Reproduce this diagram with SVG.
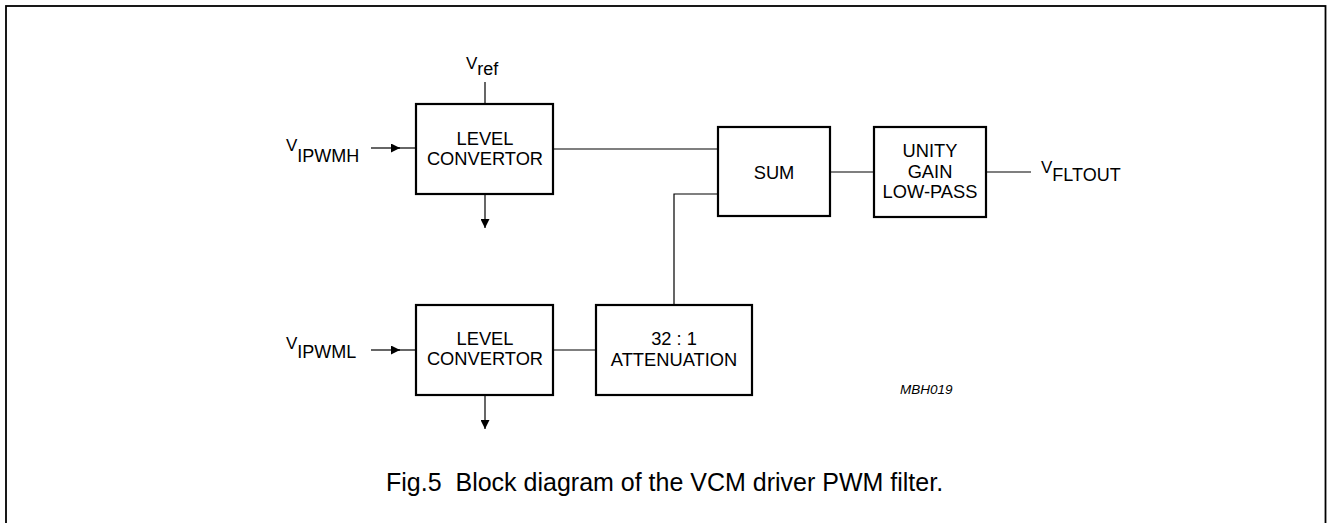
<svg xmlns="http://www.w3.org/2000/svg" width="1327" height="523" viewBox="0 0 1327 523">
<style>
.box{fill:#fff;stroke:#000;stroke-width:2.2}
.wire{fill:none;stroke:#000;stroke-width:1.2}
text{font-family:"Liberation Sans",Arial,sans-serif;fill:#000}
.lbl{font-size:18.3px;text-anchor:middle}
.v{font-size:17px}
.sub{font-size:18px}
.cap{font-size:25px}
.code{font-size:13.5px;font-style:italic}
</style>
<defs>
<marker id="arr" viewBox="0 0 10 10" refX="10" refY="5" markerWidth="10" markerHeight="9" markerUnits="userSpaceOnUse" orient="auto">
<path d="M0,0 L10,5 L0,10 Z" fill="#000"/>
</marker>
</defs>
<rect x="6" y="6" width="1319.5" height="540" fill="#fff" stroke="#000" stroke-width="1.8"/>

<g id="connectors">
<line class="wire" x1="485" y1="82" x2="485" y2="104"/>
<line class="wire" x1="371" y1="148" x2="400" y2="148" marker-end="url(#arr)"/>
<line class="wire" x1="398" y1="148" x2="416" y2="148"/>
<line class="wire" x1="485" y1="194" x2="485" y2="228" marker-end="url(#arr)"/>
<line class="wire" x1="553" y1="149" x2="718" y2="149"/>
<line class="wire" x1="371" y1="350" x2="400" y2="350" marker-end="url(#arr)"/>
<line class="wire" x1="398" y1="350" x2="416" y2="350"/>
<line class="wire" x1="485" y1="395" x2="485" y2="429" marker-end="url(#arr)"/>
<line class="wire" x1="553" y1="350" x2="596" y2="350"/>
<polyline class="wire" points="674,305 674,194 718,194"/>
<line class="wire" x1="830" y1="172" x2="874" y2="172"/>
<line class="wire" x1="986" y1="172" x2="1031" y2="172"/>
</g>

<g id="lc1">
<rect class="box" x="416" y="104" width="137" height="90"/>
<text class="lbl" x="485" y="145">LEVEL</text>
<text class="lbl" x="485" y="165">CONVERTOR</text>
</g>
<g id="lc2">
<rect class="box" x="416" y="305" width="137" height="90"/>
<text class="lbl" x="485" y="345">LEVEL</text>
<text class="lbl" x="485" y="365">CONVERTOR</text>
</g>
<g id="sum">
<rect class="box" x="718" y="127" width="112" height="89"/>
<text class="lbl" x="774" y="179">SUM</text>
</g>
<g id="lowpass">
<rect class="box" x="874" y="127" width="112" height="90"/>
<text class="lbl" x="930" y="157">UNITY</text>
<text class="lbl" x="930" y="178">GAIN</text>
<text class="lbl" x="930" y="198">LOW-PASS</text>
</g>
<g id="atten">
<rect class="box" x="596" y="305" width="156" height="90"/>
<text class="lbl" x="674" y="345">32 : 1</text>
<text class="lbl" x="674" y="366">ATTENUATION</text>
</g>

<g id="labels">
<text x="466" y="69"><tspan class="v">V</tspan><tspan class="sub" dy="6">ref</tspan></text>
<text x="286" y="151"><tspan class="v">V</tspan><tspan class="sub" dy="11">IPWMH</tspan></text>
<text x="286" y="349"><tspan class="v">V</tspan><tspan class="sub" dy="9">IPWML</tspan></text>
<text x="1041" y="173"><tspan class="v">V</tspan><tspan class="sub" dy="8">FLTOUT</tspan></text>
<text class="code" x="900" y="394">MBH019</text>
<text class="cap" x="386" y="491" xml:space="preserve">Fig.5  Block diagram of the VCM driver PWM filter.</text>
</g>
</svg>
